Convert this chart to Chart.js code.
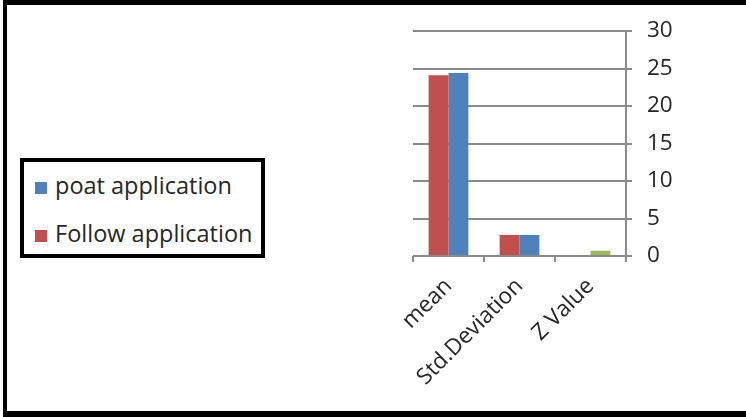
<!DOCTYPE html>
<html>
<head>
<meta charset="utf-8">
<script src="https://cdn.jsdelivr.net/npm/chart.js@4/dist/chart.umd.min.js"></script>
<style>
	body { margin: 0; background: #fff; }
	#frame {
		position: absolute; left: 3px; top: 0; width: 760px; height: 406px;
		border-top: 5px solid #000; border-left: 4px solid #000; border-bottom: 6px solid #000;
	}
	#chart { position: absolute; left: 0; top: 0; }
	#legend {
		position: absolute; left: 20px; top: 158px; width: 237px; height: 92px;
		border: 4px solid #000; background: #fff;
		font-family: "Open Sans", sans-serif; font-size: 23.5px; color: #262626;
	}
	.item { position: absolute; left: 11px; white-space: nowrap; line-height: 24px; }
	.swatch { display: inline-block; width: 12px; height: 12px; margin-right: 8px; vertical-align: 0px; }
</style>
</head>
<body>
<div id="frame"></div>
<canvas id="chart" width="746" height="417"></canvas>
<div id="legend"></div>
<script>
// Categories and series values
const categories = ["mean", "Std.Deviation", "Z Value"];
const followValues = [24.1, 2.8, 0];
const poatValues = [24.4, 2.8, 0.7];
const yTicks = [0, 5, 10, 15, 20, 25, 30];

const RED = "#C0504D";
const BLUE = "#4F81BD";
const GREEN = "#9BBB59";
const GRID = "#8A8A8A";
const TEXT = "#262626";

Chart.defaults.font.family = "'Open Sans', sans-serif";
Chart.defaults.font.size = 22.5;
Chart.defaults.color = TEXT;

const ctx = document.getElementById("chart").getContext("2d");
const chart = new Chart(ctx, {
	type: "bar",
	data: {
		labels: categories,
		datasets: [
			{
				label: "Follow application",
				data: followValues,
				backgroundColor: RED,
			},
			{
				label: "poat application",
				data: poatValues,
				// the Z Value point is coloured green in the original
				backgroundColor: [BLUE, BLUE, GREEN],
			},
		],
	},
	options: {
		responsive: false,
		animation: false,
		categoryPercentage: 0.56,
		barPercentage: 1,
		layout: {
			padding: { left: 413, top: 31, right: 60, bottom: 6 },
		},
		plugins: {
			legend: { display: false },
			tooltip: { enabled: false },
		},
		scales: {
			x: {
				grid: {
					offset: true,
					drawOnChartArea: false,
					drawTicks: true,
					tickLength: 6,
					color: GRID,
					lineWidth: 2,
				},
				border: { display: false },
				ticks: {
					minRotation: 45,
					maxRotation: 45,
					padding: 11,
					color: TEXT,
				},
				afterFit: (scale) => { scale.height = 155; },
			},
			y: {
				position: "right",
				min: 0,
				max: 30,
				afterBuildTicks: (scale) => {
					scale.ticks = yTicks.map((v) => ({ value: v }));
				},
				grid: {
					color: GRID,
					lineWidth: 2,
					tickLength: 6,
				},
				border: { display: true, color: GRID, width: 2 },
				ticks: { padding: 15, color: TEXT },
				afterFit: (scale) => { scale.width = 60; },
			},
		},
	},
});

// Legend box listed as in the original (poat first)
const legend = document.getElementById("legend");
[...chart.data.datasets].reverse().forEach((ds, i) => {
	const color = Array.isArray(ds.backgroundColor) ? ds.backgroundColor[0] : ds.backgroundColor;
	const item = document.createElement("div");
	item.className = "item";
	item.style.top = (i === 0 ? 11 : 59) + "px";
	item.innerHTML = `<span class="swatch" style="background:${color}"></span>${ds.label}`;
	legend.appendChild(item);
});
</script>
</body>
</html>
